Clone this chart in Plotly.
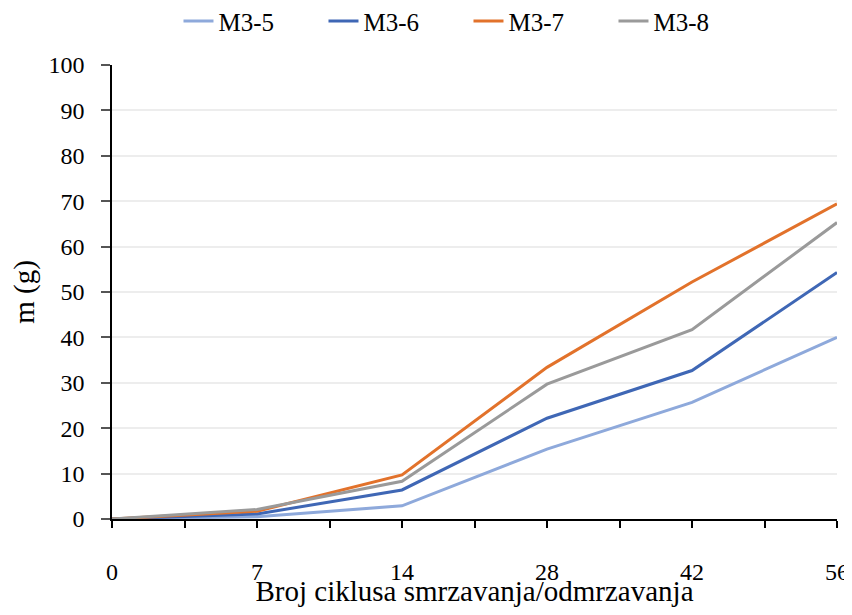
import plotly.graph_objects as go

# ciklusi smrzavanja/odmrzavanja (kategorije na x osi)
ciklusi = ["0", "7", "14", "28", "42", "56"]

m3_5 = [0, 0.5, 2.9, 15.4, 25.7, 40.0]
m3_6 = [0, 1.1, 6.4, 22.2, 32.7, 54.3]
m3_7 = [0, 1.7, 9.7, 33.4, 52.2, 69.4]
m3_8 = [0, 2.1, 8.3, 29.7, 41.7, 65.3]

serije = [
    ("M3-5", m3_5, "#8EA9DB"),
    ("M3-6", m3_6, "#3F67B5"),
    ("M3-7", m3_7, "#E2722B"),
    ("M3-8", m3_8, "#9A9A9A"),
]

pozicije = list(range(len(ciklusi)))

fig = go.Figure()
for ime, vrijednosti, boja in serije:
    fig.add_trace(go.Scatter(
        x=pozicije, y=vrijednosti, name=ime, mode="lines",
        line=dict(color=boja, width=3),
    ))

font_ime = "Liberation Serif"

# stranica ima 8px margine oko grafa
fig.update_layout(
    width=844, height=599,
    margin=dict(l=104, r=15, t=57, b=88, autoexpand=False),
    plot_bgcolor="white", paper_bgcolor="white",
    font=dict(family=font_ime, size=24, color="black"),
    legend=dict(orientation="h", x=0.202, xanchor="left", xref="container",
                y=0.978, yanchor="middle", yref="container",
                font=dict(size=25), entrywidth=100, entrywidthmode="pixels",
                tracegroupgap=0),
    showlegend=True,
)

fig.update_xaxes(
    range=[0, len(ciklusi) - 1],
    tickmode="array", tickvals=pozicije, ticktext=ciklusi,
    showline=True, linecolor="black", linewidth=1.5,
    ticks="outside", ticklen=7, tickcolor="black", tickwidth=1.5,
    minor=dict(dtick=0.5, ticks="outside", ticklen=7, tickcolor="black", tickwidth=1.5),
    showgrid=False, zeroline=False, automargin=False,
    ticklabelstandoff=23,
    title=dict(text="Broj ciklusa smrzavanja/odmrzavanja", standoff=28),
)

fig.update_yaxes(
    range=[0, 100], dtick=10,
    showline=True, linecolor="black", linewidth=1.5,
    ticks="outside", ticklen=9, tickcolor="#555555", tickwidth=1.5,
    showgrid=True, gridcolor="#EDEDED", gridwidth=1.5,
    zeroline=False, automargin=False,
    ticklabelstandoff=12,
    title=dict(text="m (g)", standoff=8),
)

fig.write_html("out.html")
